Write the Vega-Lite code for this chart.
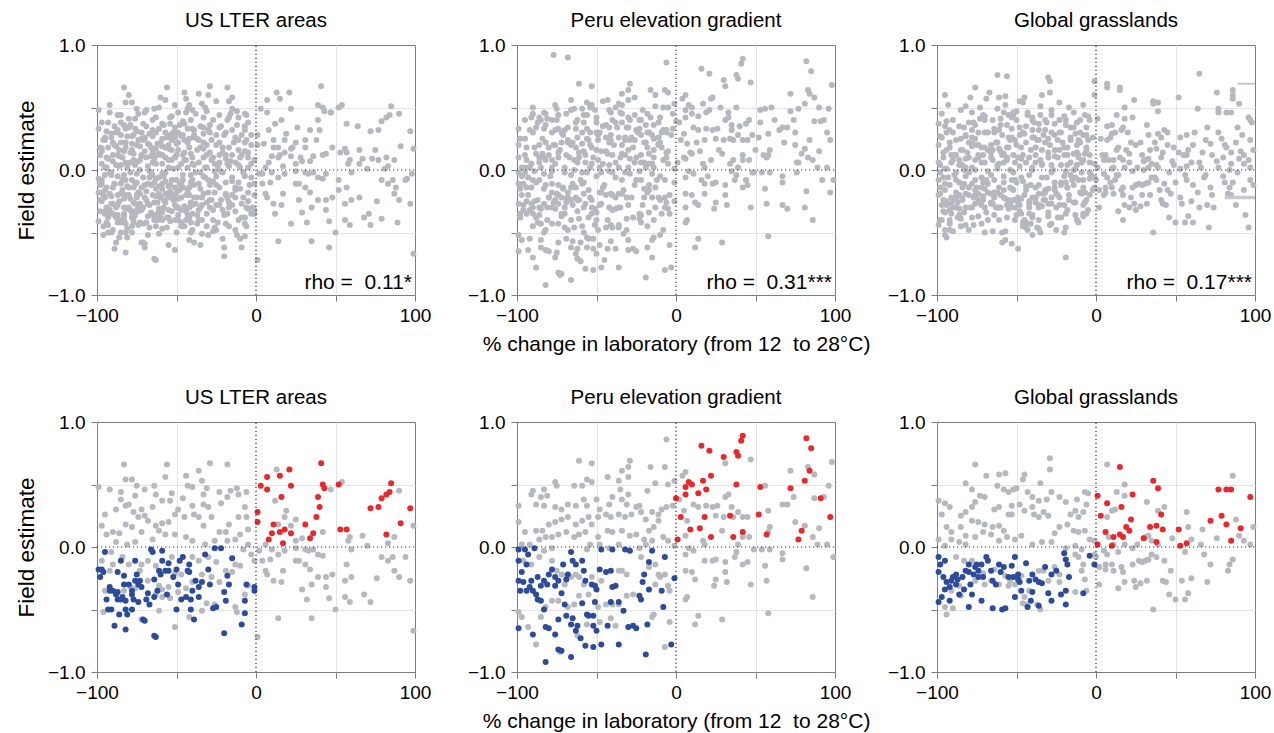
{
"$schema":"https://vega.github.io/schema/vega-lite/v6.json",
"background":"white",
"padding":{"left":14,"top":10,"right":0,"bottom":0},
"columns":3,
"bounds":"flush",
"spacing":{"row":127,"column":102},
"config":{
"font":"Liberation Sans",
"view":{"stroke":"#7d7d7d","strokeWidth":1},
"circle":{"size":36,"opacity":1,"color":"#b5b9bf"},
"line":{"color":"#333333","strokeDash":[1.2,2.8],"strokeWidth":1.2},
"text":{"fontSize":21,"align":"right","baseline":"middle","dx":-3,"color":"#000000"},
"title":{"fontSize":20.5,"fontWeight":"normal","color":"#000000","frame":"group","offset":5},
"axis":{"domain":false,"tickColor":"#7d7d7d","tickSize":6,"labelFontSize":19,"labelColor":"#000000","labelFlush":false,"labelOverlap":false,"titleFontWeight":"normal","titleColor":"#000000"},
"axisX":{"labelPadding":5,"titleFontSize":21,"titlePadding":8},
"axisY":{"labelPadding":6,"titleFontSize":22.5,"titlePadding":9}
},
"datasets":{
"lr":[{"x":3,"y":0.49},{"x":7,"y":0.56},{"x":7,"y":0.46},{"x":15,"y":0.57},{"x":21,"y":0.62},{"x":22,"y":0.49},{"x":16,"y":0.4},{"x":1,"y":0.28},{"x":1,"y":0.2},{"x":11,"y":0.18},{"x":10,"y":0.11},{"x":15,"y":0.12},{"x":18,"y":0.14},{"x":22,"y":0.11},{"x":8,"y":0.06},{"x":17,"y":0.03},{"x":31,"y":0.18},{"x":34,"y":0.07},{"x":36,"y":0.11},{"x":41,"y":0.67},{"x":42,"y":0.5},{"x":43,"y":0.47},{"x":39,"y":0.4},{"x":40,"y":0.32},{"x":38,"y":0.24},{"x":52,"y":0.5},{"x":53,"y":0.14},{"x":57,"y":0.14},{"x":72,"y":0.31},{"x":77,"y":0.32},{"x":79,"y":0.39},{"x":82,"y":0.42},{"x":84,"y":0.44},{"x":85,"y":0.51},{"x":91,"y":0.19},{"x":82,"y":0.1},{"x":97,"y":0.31}],
"lb":[{"x":-95,"y":-0.04},{"x":-97,"y":-0.18},{"x":-98,"y":-0.24},{"x":-94,"y":-0.42},{"x":-92,"y":-0.32},{"x":-93,"y":-0.5},{"x":-91,"y":-0.5},{"x":-89,"y":-0.63},{"x":-87,"y":-0.42},{"x":-86,"y":-0.54},{"x":-84,"y":-0.4},{"x":-83,"y":-0.3},{"x":-82,"y":-0.66},{"x":-82,"y":-0.5},{"x":-80,"y":-0.3},{"x":-78,"y":-0.38},{"x":-77,"y":-0.42},{"x":-76,"y":-0.11},{"x":-75,"y":-0.22},{"x":-74,"y":-0.3},{"x":-72,"y":-0.32},{"x":-71,"y":-0.58},{"x":-70,"y":-0.59},{"x":-69,"y":-0.42},{"x":-68,"y":-0.37},{"x":-66,"y":-0.02},{"x":-65,"y":-0.04},{"x":-64,"y":-0.26},{"x":-64,"y":-0.71},{"x":-63,"y":-0.72},{"x":-62,"y":-0.35},{"x":-60,"y":-0.22},{"x":-59,"y":-0.03},{"x":-59,"y":-0.11},{"x":-57,"y":-0.19},{"x":-56,"y":-0.38},{"x":-55,"y":-0.13},{"x":-52,"y":-0.24},{"x":-50,"y":-0.5},{"x":-49,"y":-0.3},{"x":-47,"y":-0.42},{"x":-46,"y":-0.08},{"x":-44,"y":-0.4},{"x":-43,"y":-0.19},{"x":-42,"y":-0.2},{"x":-41,"y":-0.5},{"x":-40,"y":-0.35},{"x":-39,"y":-0.58},{"x":-38,"y":-0.27},{"x":-36,"y":-0.32},{"x":-34,"y":-0.28},{"x":-32,"y":-0.06},{"x":-30,"y":-0.18},{"x":-29,"y":-0.3},{"x":-27,"y":-0.49},{"x":-26,"y":-0.01},{"x":-25,"y":-0.48},{"x":-22,"y":-0.01},{"x":-20,"y":-0.69},{"x":-20,"y":-0.36},{"x":-19,"y":-0.43},{"x":-17,"y":-0.3},{"x":-18,"y":-0.23},{"x":-15,"y":-0.09},{"x":-9,"y":-0.62},{"x":-7,"y":-0.53},{"x":-7,"y":-0.43},{"x":-6,"y":-0.3},{"x":-1,"y":-0.32},{"x":-1,"y":-0.35},{"x":-87,"y":-0.2},{"x":-85,"y":-0.11},{"x":-83,"y":-0.23},{"x":-88,"y":-0.38},{"x":-82,"y":-0.43},{"x":-74,"y":-0.44},{"x":-78,"y":-0.5},{"x":-81,"y":-0.54},{"x":-99,"y":-0.18},{"x":-96,"y":-0.2},{"x":-92,"y":-0.35},{"x":-90,"y":-0.35},{"x":-87,"y":-0.36},{"x":-85,"y":-0.42},{"x":-78,"y":-0.35},{"x":-76,"y":-0.27},{"x":-73,"y":-0.27},{"x":-67,"y":-0.46},{"x":-64,"y":-0.4},{"x":-61,"y":-0.19},{"x":-55,"y":-0.19},{"x":-50,"y":-0.18},{"x":-48,"y":-0.11},{"x":-42,"y":-0.14},{"x":-41,"y":-0.42},{"x":-36,"y":-0.4}],
"lg":[{"x":-83,"y":0.66},{"x":-56,"y":0.66},{"x":-29,"y":0.67},{"x":-18,"y":0.66},{"x":-82,"y":0.54},{"x":-78,"y":0.54},{"x":-75,"y":0.49},{"x":-57,"y":0.56},{"x":-44,"y":0.57},{"x":-36,"y":0.61},{"x":-34,"y":0.53},{"x":-99,"y":0.48},{"x":-92,"y":0.46},{"x":-85,"y":0.44},{"x":-85,"y":0.38},{"x":-80,"y":0.34},{"x":-76,"y":0.41},{"x":-70,"y":0.46},{"x":-64,"y":0.49},{"x":-63,"y":0.42},{"x":-53,"y":0.43},{"x":-46,"y":0.39},{"x":-43,"y":0.49},{"x":-40,"y":0.48},{"x":-33,"y":0.42},{"x":-31,"y":0.47},{"x":-23,"y":0.44},{"x":-16,"y":0.45},{"x":-12,"y":0.47},{"x":-6,"y":0.44},{"x":-11,"y":0.42},{"x":-18,"y":0.4},{"x":-22,"y":0.35},{"x":-30,"y":0.32},{"x":-33,"y":0.34},{"x":-40,"y":0.33},{"x":-49,"y":0.3},{"x":-54,"y":0.37},{"x":-59,"y":0.37},{"x":-65,"y":0.32},{"x":-72,"y":0.3},{"x":-77,"y":0.28},{"x":-82,"y":0.33},{"x":-88,"y":0.3},{"x":-95,"y":0.26},{"x":-97,"y":0.17},{"x":-94,"y":0.1},{"x":-90,"y":0.12},{"x":-86,"y":0.11},{"x":-82,"y":0.18},{"x":-78,"y":0.16},{"x":-74,"y":0.24},{"x":-70,"y":0.25},{"x":-68,"y":0.21},{"x":-63,"y":0.17},{"x":-59,"y":0.19},{"x":-55,"y":0.2},{"x":-51,"y":0.26},{"x":-45,"y":0.24},{"x":-39,"y":0.26},{"x":-36,"y":0.24},{"x":-33,"y":0.17},{"x":-28,"y":0.24},{"x":-23,"y":0.12},{"x":-19,"y":0.12},{"x":-17,"y":0.18},{"x":-11,"y":0.24},{"x":-7,"y":0.32},{"x":-6,"y":0.24},{"x":-10,"y":0.1},{"x":-5,"y":0.14},{"x":-13,"y":0.06},{"x":-18,"y":0.05},{"x":-26,"y":0.05},{"x":-32,"y":0.02},{"x":-40,"y":0.05},{"x":-44,"y":0.08},{"x":-51,"y":0.1},{"x":-57,"y":0.1},{"x":-61,"y":0.13},{"x":-65,"y":0.06},{"x":-72,"y":0.12},{"x":-76,"y":0.04},{"x":-81,"y":0.02},{"x":-88,"y":0.04},{"x":-91,"y":-0.04},{"x":-90,"y":-0.14},{"x":-84,"y":-0.08},{"x":-80,"y":-0.14},{"x":-72,"y":-0.14},{"x":-68,"y":-0.11},{"x":-63,"y":-0.15},{"x":-53,"y":-0.08},{"x":-51,"y":-0.21},{"x":-47,"y":-0.22},{"x":-40,"y":-0.08},{"x":-36,"y":-0.11},{"x":-30,"y":-0.08},{"x":-25,"y":-0.12},{"x":-19,"y":-0.19},{"x":-15,"y":-0.2},{"x":-13,"y":-0.14},{"x":-10,"y":-0.15},{"x":-3,"y":-0.06},{"x":-1,"y":-0.11},{"x":-5,"y":-0.31},{"x":-7,"y":-0.38},{"x":-13,"y":-0.48},{"x":-12,"y":-0.52},{"x":-23,"y":-0.28},{"x":-28,"y":-0.24},{"x":-34,"y":-0.22},{"x":-40,"y":-0.28},{"x":-44,"y":-0.33},{"x":-49,"y":-0.36},{"x":-54,"y":-0.41},{"x":-59,"y":-0.4},{"x":-63,"y":-0.38},{"x":-68,"y":-0.27},{"x":-73,"y":-0.19},{"x":-76,"y":-0.33},{"x":-79,"y":-0.32},{"x":-83,"y":-0.35},{"x":-95,"y":-0.35},{"x":-96,"y":-0.52},{"x":-72,"y":-0.58},{"x":-61,"y":-0.51},{"x":-51,"y":-0.64},{"x":-42,"y":-0.56},{"x":-34,"y":-0.51},{"x":-31,"y":-0.45},{"x":-26,"y":-0.46},{"x":-97,"y":-0.11},{"x":-92,"y":-0.19},{"x":-61,"y":-0.31},{"x":-55,"y":-0.32},{"x":-59,"y":-0.34},{"x":-5,"y":0.02},{"x":-8,"y":-0.02},{"x":13,"y":0.62},{"x":12,"y":0.37},{"x":19,"y":0.29},{"x":18,"y":0.24},{"x":14,"y":0.18},{"x":22,"y":0.17},{"x":25,"y":0.22},{"x":25,"y":0.05},{"x":29,"y":0.07},{"x":42,"y":0.12},{"x":36,"y":-0.02},{"x":33,"y":-0.03},{"x":25,"y":-0.01},{"x":18,"y":-0.03},{"x":14,"y":-0.06},{"x":6,"y":0.02},{"x":2,"y":-0.03},{"x":9,"y":-0.1},{"x":6,"y":-0.19},{"x":7,"y":-0.22},{"x":11,"y":-0.27},{"x":16,"y":-0.28},{"x":17,"y":-0.19},{"x":25,"y":-0.11},{"x":27,"y":-0.11},{"x":31,"y":-0.14},{"x":34,"y":-0.18},{"x":39,"y":-0.06},{"x":42,"y":-0.07},{"x":48,"y":-0.22},{"x":44,"y":-0.24},{"x":39,"y":-0.24},{"x":35,"y":-0.3},{"x":29,"y":-0.34},{"x":32,"y":-0.42},{"x":44,"y":-0.32},{"x":46,"y":-0.41},{"x":50,"y":-0.5},{"x":35,"y":-0.57},{"x":14,"y":-0.57},{"x":56,"y":-0.27},{"x":56,"y":-0.4},{"x":59,"y":-0.44},{"x":60,"y":-0.24},{"x":57,"y":-0.14},{"x":60,"y":-0.02},{"x":58,"y":0.05},{"x":59,"y":0.08},{"x":67,"y":0.09},{"x":70,"y":0.01},{"x":68,"y":-0.38},{"x":72,"y":-0.44},{"x":76,"y":-0.25},{"x":79,"y":-0.08},{"x":83,"y":-0.11},{"x":86,"y":-0.08},{"x":87,"y":-0.19},{"x":90,"y":-0.24},{"x":94,"y":-0.08},{"x":97,"y":-0.27},{"x":99,"y":-0.67},{"x":99,"y":0.17},{"x":90,"y":0.45},{"x":83,"y":0.03},{"x":87,"y":0.08},{"x":54,"y":0.52},{"x":47,"y":0.46},{"x":1,"y":-0.72},{"x":10,"y":-0.02},{"x":4,"y":-0.11},{"x":31,"y":-0.02}],
"lt":[{"x":8,"y":0.32},{"x":11,"y":0.24},{"x":23,"y":0.18},{"x":28,"y":0.1},{"x":31,"y":0.24},{"x":44,"y":0.13},{"x":48,"y":0.18},{"x":56,"y":0.17},{"x":65,"y":0.16},{"x":73,"y":0.09},{"x":77,"y":0.08},{"x":81,"y":0.01},{"x":88,"y":-0.14},{"x":12,"y":-0.35},{"x":22,"y":-0.43},{"x":27,"y":-0.24},{"x":52,"y":-0.16},{"x":65,"y":-0.22},{"x":71,"y":-0.35},{"x":79,"y":-0.39},{"x":89,"y":-0.42},{"x":46,"y":-0.62},{"x":52,"y":-0.08},{"x":4,"y":-0.03},{"x":5,"y":0.21},{"x":14,"y":0.1},{"x":44,"y":-0.03},{"x":26,"y":0.34},{"x":34,"y":0.32},{"x":65,"y":0.05},{"x":75,"y":0.16},{"x":95,"y":-0.07},{"x":98,"y":-0.03},{"x":-30,"y":0.6},{"x":-17,"y":0.55},{"x":-49,"y":0.46},{"x":-42,"y":0.52},{"x":-15,"y":0.49},{"x":-7,"y":0.45},{"x":39,"y":0.52},{"x":47,"y":0.46},{"x":57,"y":0.37},{"x":64,"y":0.35},{"x":-98,"y":0.12},{"x":-98,"y":-0.33},{"x":-97,"y":0.38},{"x":-97,"y":-0.08},{"x":-96,"y":0.24},{"x":-96,"y":-0.45},{"x":-95,"y":0.02},{"x":-95,"y":-0.22},{"x":-94,"y":0.31},{"x":-94,"y":-0.14},{"x":-93,"y":0.18},{"x":-93,"y":-0.38},{"x":-92,"y":-0.02},{"x":-92,"y":0.52},{"x":-91,"y":0.26},{"x":-91,"y":-0.27},{"x":-90,"y":0.07},{"x":-90,"y":-0.48},{"x":-89,"y":0.35},{"x":-89,"y":-0.11},{"x":-88,"y":-0.3},{"x":-88,"y":0.19},{"x":-87,"y":0.44},{"x":-87,"y":-0.05},{"x":-86,"y":0.03},{"x":-86,"y":-0.25},{"x":-85,"y":0.28},{"x":-85,"y":-0.5},{"x":-84,"y":-0.16},{"x":-84,"y":0.1},{"x":-83,"y":0.36},{"x":-83,"y":-0.4},{"x":-82,"y":-0.08},{"x":-82,"y":0.22},{"x":-81,"y":0.05},{"x":-81,"y":-0.31},{"x":-80,"y":0.41},{"x":-80,"y":-0.2},{"x":-79,"y":0.14},{"x":-79,"y":-0.02},{"x":-78,"y":-0.45},{"x":-78,"y":0.27},{"x":-77,"y":0.08},{"x":-77,"y":-0.26},{"x":-76,"y":0.33},{"x":-76,"y":-0.36},{"x":-75,"y":-0.1},{"x":-75,"y":0.2},{"x":-74,"y":0.45},{"x":-74,"y":-0.18},{"x":-73,"y":0},{"x":-73,"y":-0.42},{"x":-72,"y":0.25},{"x":-72,"y":0.11},{"x":-71,"y":-0.3},{"x":-71,"y":0.37},{"x":-70,"y":-0.12},{"x":-70,"y":0.15},{"x":-69,"y":-0.24},{"x":-69,"y":0.48},{"x":-68,"y":0.03},{"x":-68,"y":-0.52},{"x":-67,"y":0.29},{"x":-67,"y":-0.06},{"x":-66,"y":-0.34},{"x":-66,"y":0.18},{"x":-65,"y":0.4},{"x":-65,"y":-0.2},{"x":-64,"y":0.09},{"x":-64,"y":-0.1},{"x":-63,"y":-0.45},{"x":-63,"y":0.3},{"x":-62,"y":0.12},{"x":-62,"y":-0.26},{"x":-61,"y":0.5},{"x":-61,"y":-0.06},{"x":-60,"y":0.22},{"x":-60,"y":-0.38},{"x":-59,"y":0.05},{"x":-59,"y":-0.15},{"x":-58,"y":0.36},{"x":-58,"y":-0.3},{"x":-57,"y":0.18},{"x":-57,"y":-0.02},{"x":-56,"y":-0.46},{"x":-56,"y":0.26},{"x":-55,"y":0.08},{"x":-55,"y":-0.22},{"x":-54,"y":0.42},{"x":-54,"y":-0.12},{"x":-53,"y":0.16},{"x":-53,"y":-0.33},{"x":-52,"y":0.01},{"x":-52,"y":0.3},{"x":-51,"y":-0.28},{"x":-51,"y":0.52},{"x":-50,"y":0.12},{"x":-50,"y":-0.08},{"x":-49,"y":-0.4},{"x":-49,"y":0.22},{"x":-48,"y":0.36},{"x":-48,"y":-0.16},{"x":-47,"y":0.05},{"x":-47,"y":-0.32},{"x":-46,"y":0.28},{"x":-46,"y":-0.04},{"x":-45,"y":0.14},{"x":-45,"y":-0.45},{"x":-44,"y":0.46},{"x":-44,"y":-0.2},{"x":-43,"y":0.02},{"x":-43,"y":0.33},{"x":-42,"y":-0.3},{"x":-42,"y":0.18},{"x":-41,"y":-0.1},{"x":-41,"y":0.4},{"x":-40,"y":-0.48},{"x":-40,"y":0.1},{"x":-39,"y":0.28},{"x":-39,"y":-0.22},{"x":-38,"y":-0.02},{"x":-38,"y":0.45},{"x":-37,"y":0.16},{"x":-37,"y":-0.36},{"x":-36,"y":0.06},{"x":-35,"y":-0.15},{"x":-35,"y":0.35},{"x":-34,"y":-0.4},{"x":-33,"y":0.22},{"x":-33,"y":-0.05},{"x":-32,"y":0.5},{"x":-31,"y":-0.26},{"x":-31,"y":0.12},{"x":-30,"y":-0.52},{"x":-29,"y":0.3},{"x":-29,"y":-0.12},{"x":-28,"y":0.08},{"x":-27,"y":-0.32},{"x":-27,"y":0.4},{"x":-26,"y":-0.18},{"x":-25,"y":0.2},{"x":-24,"y":-0.42},{"x":-24,"y":0.03},{"x":-23,"y":0.34},{"x":-22,"y":-0.24},{"x":-21,"y":0.14},{"x":-21,"y":-0.55},{"x":-20,"y":0.28},{"x":-19,"y":-0.1},{"x":-18,"y":-0.35},{"x":-17,"y":0.42},{"x":-16,"y":0.07},{"x":-15,"y":-0.28},{"x":-14,"y":0.22},{"x":-13,"y":-0.16},{"x":-12,"y":0.36},{"x":-11,"y":-0.4},{"x":-10,"y":0.02},{"x":-9,"y":0.28},{"x":-8,"y":-0.22},{"x":-7,"y":0.15},{"x":-6,"y":-0.45},{"x":-5,"y":0.38},{"x":-4,"y":-0.12},{"x":-3,"y":0.2},{"x":-2,"y":-0.3},{"x":-1,"y":0.08},{"x":-1,"y":-0.2},{"x":-15,"y":0.58},{"x":-60,"y":0.58},{"x":-80,"y":0.6},{"x":-45,"y":0.62},{"x":-25,"y":0.55},{"x":-70,"y":-0.62},{"x":-55,"y":-0.6},{"x":-35,"y":-0.6},{"x":-88,"y":-0.58},{"x":-20,"y":-0.62},{"x":-10,"y":-0.55}],
"lt2":[{"x":-99,"y":0.33},{"x":-99,"y":-0.07},{"x":-99,"y":-0.41},{"x":-97,"y":0.15},{"x":-97,"y":-0.25},{"x":-97,"y":0.05},{"x":-95,"y":0.24},{"x":-95,"y":-0.16},{"x":-95,"y":-0.33},{"x":-93,"y":0.09},{"x":-93,"y":-0.44},{"x":-93,"y":0.38},{"x":-91,"y":-0.02},{"x":-91,"y":0.29},{"x":-91,"y":-0.21},{"x":-89,"y":0.2},{"x":-89,"y":-0.36},{"x":-89,"y":-0.11},{"x":-87,"y":0.12},{"x":-87,"y":-0.28},{"x":-87,"y":0.32},{"x":-85,"y":-0.19},{"x":-85,"y":0.04},{"x":-85,"y":0.22},{"x":-83,"y":0.15},{"x":-83,"y":-0.37},{"x":-83,"y":-0.04},{"x":-81,"y":0.27},{"x":-81,"y":-0.13},{"x":-81,"y":-0.47},{"x":-79,"y":0.06},{"x":-79,"y":-0.23},{"x":-79,"y":0.36},{"x":-77,"y":-0.14},{"x":-77,"y":0.13},{"x":-77,"y":-0.39},{"x":-75,"y":0.31},{"x":-75,"y":-0.03},{"x":-75,"y":-0.2},{"x":-73,"y":0.19},{"x":-73,"y":-0.3},{"x":-73,"y":0.08},{"x":-71,"y":-0.06},{"x":-71,"y":-0.43},{"x":-71,"y":0.24},{"x":-69,"y":0.1},{"x":-69,"y":-0.17},{"x":-69,"y":0.35},{"x":-67,"y":-0.28},{"x":-67,"y":0.2},{"x":-67,"y":-0.01},{"x":-65,"y":0.14},{"x":-65,"y":-0.36},{"x":-65,"y":0.27},{"x":-63,"y":-0.07},{"x":-63,"y":0.05},{"x":-63,"y":-0.21},{"x":-61,"y":0.33},{"x":-61,"y":-0.31},{"x":-61,"y":-0.13},{"x":-59,"y":0.25},{"x":-59,"y":-0.47},{"x":-59,"y":0.12},{"x":-57,"y":-0.09},{"x":-57,"y":0.3},{"x":-57,"y":-0.26},{"x":-55,"y":0.17},{"x":-55,"y":-0.38},{"x":-55,"y":0.02},{"x":-53,"y":-0.2},{"x":-53,"y":0.08},{"x":-53,"y":0.24},{"x":-51,"y":0.34},{"x":-51,"y":-0.14},{"x":-51,"y":-0.4},{"x":-49,"y":0.02},{"x":-49,"y":-0.23},{"x":-49,"y":0.16},{"x":-47,"y":-0.12},{"x":-47,"y":0.27},{"x":-47,"y":-0.45},{"x":-45,"y":0.08},{"x":-45,"y":-0.29},{"x":-45,"y":0.37},{"x":-43,"y":-0.16},{"x":-43,"y":0.22},{"x":-43,"y":-0.36},{"x":-41,"y":0.13},{"x":-41,"y":-0.04},{"x":-41,"y":-0.26},{"x":-39,"y":0.32},{"x":-39,"y":-0.12},{"x":-39,"y":0.04},{"x":-37,"y":-0.22},{"x":-37,"y":0.25},{"x":-37,"y":-0.43},{"x":-35,"y":0.18},{"x":-35,"y":-0.3},{"x":-35,"y":-0.02},{"x":-33,"y":0.1},{"x":-33,"y":-0.19},{"x":-33,"y":0.29},{"x":-31,"y":-0.35},{"x":-31,"y":0.02},{"x":-31,"y":0.2},{"x":-29,"y":0.14},{"x":-29,"y":-0.24},{"x":-29,"y":0.36},{"x":-27,"y":-0.09},{"x":-27,"y":0.1},{"x":-27,"y":-0.4},{"x":-25,"y":0.28},{"x":-25,"y":-0.28},{"x":-25,"y":-0.05},{"x":-23,"y":0.06},{"x":-23,"y":-0.14},{"x":-23,"y":0.22},{"x":-21,"y":-0.32},{"x":-21,"y":0.18},{"x":-21,"y":-0.02},{"x":-19,"y":0.3},{"x":-19,"y":-0.2},{"x":-19,"y":0.09},{"x":-17,"y":-0.26},{"x":-17,"y":0.03},{"x":-17,"y":-0.45},{"x":-15,"y":0.12},{"x":-15,"y":-0.06},{"x":-15,"y":0.32},{"x":-13,"y":-0.22},{"x":-13,"y":0.26},{"x":-13,"y":-0.33},{"x":-11,"y":0.16},{"x":-11,"y":-0.1},{"x":-11,"y":0.04},{"x":-9,"y":-0.27},{"x":-9,"y":0.12},{"x":-9,"y":-0.38},{"x":-7,"y":0.22},{"x":-7,"y":-0.05},{"x":-7,"y":0.35},{"x":-5,"y":-0.18},{"x":-5,"y":0.1},{"x":-5,"y":-0.25},{"x":-3,"y":0.05},{"x":-3,"y":-0.35},{"x":-3,"y":0.28},{"x":-98,"y":-0.12},{"x":-98,"y":0.18},{"x":-94,"y":0.02},{"x":-94,"y":-0.3},{"x":-90,"y":-0.27},{"x":-90,"y":0.22},{"x":-86,"y":0.16},{"x":-86,"y":-0.4},{"x":-82,"y":-0.2},{"x":-82,"y":0.06},{"x":-78,"y":0.21},{"x":-78,"y":-0.08},{"x":-74,"y":-0.33},{"x":-74,"y":0.07},{"x":-70,"y":0.26},{"x":-70,"y":-0.22},{"x":-66,"y":-0.12},{"x":-66,"y":0.11},{"x":-62,"y":0.21},{"x":-62,"y":-0.4},{"x":-58,"y":-0.05},{"x":-58,"y":-0.24},{"x":-54,"y":0.28},{"x":-54,"y":-0.17},{"x":-50,"y":-0.3},{"x":-50,"y":0.21},{"x":-46,"y":0.12},{"x":-46,"y":-0.14},{"x":-42,"y":-0.38},{"x":-42,"y":0.25}],
"pr":[{"x":0,"y":0.39},{"x":1,"y":0.06},{"x":3,"y":0.24},{"x":6,"y":0.48},{"x":6,"y":0.42},{"x":8,"y":0.52},{"x":9,"y":0.14},{"x":10,"y":0.5},{"x":14,"y":0.43},{"x":15,"y":0.15},{"x":16,"y":0.81},{"x":17,"y":0.53},{"x":18,"y":0.24},{"x":19,"y":0.46},{"x":21,"y":0.77},{"x":22,"y":0.08},{"x":22,"y":0.57},{"x":30,"y":0.72},{"x":34,"y":0.25},{"x":36,"y":0.08},{"x":38,"y":0.76},{"x":38,"y":0.5},{"x":39,"y":0.73},{"x":41,"y":0.85},{"x":42,"y":0.89},{"x":42,"y":0.12},{"x":52,"y":0.26},{"x":53,"y":0.48},{"x":57,"y":0.1},{"x":72,"y":0.47},{"x":77,"y":0.06},{"x":79,"y":0.13},{"x":81,"y":0.53},{"x":82,"y":0.87},{"x":84,"y":0.61},{"x":85,"y":0.79},{"x":91,"y":0.39},{"x":97,"y":0.24}],
"pb":[{"x":-99,"y":-0.02},{"x":-95,"y":-0.02},{"x":-89,"y":-0.01},{"x":-93,"y":-0.06},{"x":-99,"y":-0.11},{"x":-94,"y":-0.14},{"x":-97,"y":-0.2},{"x":-99,"y":-0.27},{"x":-96,"y":-0.28},{"x":-94,"y":-0.35},{"x":-92,"y":-0.32},{"x":-90,"y":-0.35},{"x":-88,"y":-0.38},{"x":-87,"y":-0.42},{"x":-85,"y":-0.31},{"x":-83,"y":-0.27},{"x":-81,"y":-0.3},{"x":-80,"y":-0.22},{"x":-78,"y":-0.18},{"x":-76,"y":-0.31},{"x":-76,"y":-0.24},{"x":-74,"y":-0.27},{"x":-72,"y":-0.37},{"x":-71,"y":-0.14},{"x":-69,"y":-0.26},{"x":-68,"y":-0.22},{"x":-66,"y":-0.04},{"x":-65,"y":-0.11},{"x":-63,"y":-0.14},{"x":-59,"y":-0.11},{"x":-58,"y":-0.19},{"x":-57,"y":-0.27},{"x":-53,"y":-0.3},{"x":-51,"y":-0.31},{"x":-50,"y":-0.34},{"x":-51,"y":-0.44},{"x":-48,"y":-0.18},{"x":-47,"y":-0.02},{"x":-44,"y":-0.2},{"x":-41,"y":-0.19},{"x":-40,"y":-0.02},{"x":-40,"y":-0.32},{"x":-41,"y":-0.44},{"x":-38,"y":-0.31},{"x":-36,"y":-0.44},{"x":-33,"y":-0.51},{"x":-32,"y":-0.02},{"x":-29,"y":-0.03},{"x":-17,"y":-0.12},{"x":-15,"y":-0.03},{"x":-7,"y":-0.08},{"x":-20,"y":-0.22},{"x":-21,"y":-0.28},{"x":-17,"y":-0.34},{"x":-9,"y":-0.35},{"x":-8,"y":-0.48},{"x":-1,"y":-0.25},{"x":-18,"y":-0.62},{"x":-25,"y":-0.65},{"x":-27,"y":-0.63},{"x":-30,"y":-0.64},{"x":-36,"y":-0.78},{"x":-47,"y":-0.78},{"x":-52,"y":-0.8},{"x":-57,"y":-0.79},{"x":-60,"y":-0.73},{"x":-63,"y":-0.67},{"x":-66,"y":-0.62},{"x":-69,"y":-0.55},{"x":-74,"y":-0.58},{"x":-76,"y":-0.7},{"x":-74,"y":-0.82},{"x":-72,"y":-0.83},{"x":-66,"y":-0.88},{"x":-82,"y":-0.92},{"x":-82,"y":-0.64},{"x":-80,"y":-0.65},{"x":-83,"y":-0.5},{"x":-85,"y":-0.43},{"x":-90,"y":-0.7},{"x":-99,"y":-0.65},{"x":-50,"y":-0.67},{"x":-43,"y":-0.63},{"x":-52,"y":-0.63},{"x":-55,"y":-0.55},{"x":-59,"y":-0.45},{"x":-65,"y":-0.57},{"x":-62,"y":-0.63},{"x":-3,"y":-0.78},{"x":-19,"y":-0.86},{"x":-23,"y":-0.39},{"x":-22,"y":-0.42},{"x":-52,"y":-0.55},{"x":-56,"y":-0.54},{"x":-70,"y":-0.46},{"x":-98,"y":-0.35},{"x":-91,"y":-0.27},{"x":-87,"y":-0.24}],
"pg":[{"x":-61,"y":0.69},{"x":-53,"y":0.67},{"x":-29,"y":0.69},{"x":-6,"y":0.86},{"x":-16,"y":0.64},{"x":-7,"y":0.64},{"x":-34,"y":0.61},{"x":-30,"y":0.64},{"x":-43,"y":0.56},{"x":-36,"y":0.53},{"x":-30,"y":0.56},{"x":-56,"y":0.54},{"x":-53,"y":0.52},{"x":-59,"y":0.49},{"x":-64,"y":0.49},{"x":-76,"y":0.52},{"x":-75,"y":0.49},{"x":-81,"y":0.41},{"x":-83,"y":0.46},{"x":-90,"y":0.45},{"x":-91,"y":0.42},{"x":-85,"y":0.4},{"x":-99,"y":0.33},{"x":-88,"y":0.34},{"x":-83,"y":0.33},{"x":-76,"y":0.32},{"x":-72,"y":0.3},{"x":-68,"y":0.34},{"x":-63,"y":0.33},{"x":-58,"y":0.38},{"x":-56,"y":0.33},{"x":-50,"y":0.38},{"x":-48,"y":0.3},{"x":-42,"y":0.34},{"x":-40,"y":0.4},{"x":-35,"y":0.46},{"x":-34,"y":0.38},{"x":-31,"y":0.34},{"x":-30,"y":0.42},{"x":-23,"y":0.33},{"x":-22,"y":0.28},{"x":-19,"y":0.22},{"x":-15,"y":0.28},{"x":-11,"y":0.26},{"x":-9,"y":0.3},{"x":-6,"y":0.32},{"x":-2,"y":0.33},{"x":-1,"y":0.53},{"x":-5,"y":0.5},{"x":-13,"y":0.51},{"x":-18,"y":0.45},{"x":-25,"y":0.32},{"x":-28,"y":0.26},{"x":-32,"y":0.24},{"x":-36,"y":0.26},{"x":-41,"y":0.24},{"x":-44,"y":0.26},{"x":-49,"y":0.24},{"x":-53,"y":0.18},{"x":-55,"y":0.24},{"x":-59,"y":0.21},{"x":-63,"y":0.18},{"x":-68,"y":0.24},{"x":-72,"y":0.22},{"x":-76,"y":0.2},{"x":-80,"y":0.18},{"x":-84,"y":0.13},{"x":-88,"y":0.13},{"x":-95,"y":0.12},{"x":-99,"y":0.2},{"x":-97,"y":0.02},{"x":-92,"y":0.02},{"x":-86,"y":0.06},{"x":-82,"y":0.08},{"x":-78,"y":0.08},{"x":-74,"y":0.1},{"x":-69,"y":0.12},{"x":-64,"y":0.08},{"x":-61,"y":0.1},{"x":-57,"y":0.12},{"x":-54,"y":0.02},{"x":-49,"y":0.08},{"x":-43,"y":0.13},{"x":-40,"y":0.12},{"x":-34,"y":0.13},{"x":-29,"y":0.09},{"x":-25,"y":0.1},{"x":-20,"y":0.06},{"x":-17,"y":0.13},{"x":-14,"y":0.16},{"x":-11,"y":0.21},{"x":-8,"y":0.08},{"x":-5,"y":0.05},{"x":-1,"y":0.01},{"x":-15,"y":0.05},{"x":-19,"y":0.02},{"x":-23,"y":-0.01},{"x":-36,"y":0.02},{"x":-42,"y":-0.01},{"x":-48,"y":0.02},{"x":-56,"y":-0.02},{"x":-78,"y":-0.01},{"x":-83,"y":-0.03},{"x":-86,"y":-0.08},{"x":-91,"y":-0.14},{"x":-96,"y":-0.11},{"x":-78,"y":-0.11},{"x":-75,"y":-0.19},{"x":-72,"y":-0.22},{"x":-69,"y":-0.23},{"x":-66,"y":-0.24},{"x":-63,"y":-0.22},{"x":-61,"y":-0.24},{"x":-70,"y":-0.3},{"x":-58,"y":-0.3},{"x":-53,"y":-0.24},{"x":-47,"y":-0.27},{"x":-36,"y":-0.19},{"x":-34,"y":-0.19},{"x":-31,"y":-0.22},{"x":-22,"y":-0.08},{"x":-17,"y":-0.16},{"x":-13,"y":-0.14},{"x":-11,"y":-0.22},{"x":-10,"y":-0.24},{"x":-7,"y":-0.22},{"x":-5,"y":-0.31},{"x":-13,"y":-0.3},{"x":-4,"y":-0.35},{"x":-14,"y":-0.54},{"x":-4,"y":-0.6},{"x":-7,"y":-0.8},{"x":-15,"y":-0.56},{"x":-27,"y":-0.38},{"x":-31,"y":-0.39},{"x":-36,"y":-0.46},{"x":-40,"y":-0.46},{"x":-44,"y":-0.46},{"x":-49,"y":-0.48},{"x":-55,"y":-0.38},{"x":-61,"y":-0.39},{"x":-64,"y":-0.46},{"x":-68,"y":-0.48},{"x":-74,"y":-0.43},{"x":-78,"y":-0.43},{"x":-82,"y":-0.48},{"x":-85,"y":-0.56},{"x":-88,"y":-0.78},{"x":-93,"y":-0.64},{"x":-97,"y":-0.56},{"x":-99,"y":-0.52},{"x":-73,"y":-0.84},{"x":-62,"y":-0.71},{"x":-56,"y":-0.62},{"x":-48,"y":-0.6},{"x":-41,"y":-0.57},{"x":-38,"y":-0.63},{"x":6,"y":0.6},{"x":4,"y":0.57},{"x":2,"y":0.38},{"x":5,"y":0.29},{"x":7,"y":0.21},{"x":6,"y":0.09},{"x":8,"y":-0.01},{"x":6,"y":-0.06},{"x":11,"y":-0.03},{"x":6,"y":-0.19},{"x":10,"y":-0.2},{"x":12,"y":-0.26},{"x":7,"y":-0.4},{"x":6,"y":-0.42},{"x":14,"y":-0.55},{"x":12,"y":-0.62},{"x":17,"y":0.05},{"x":18,"y":0.02},{"x":23,"y":-0.11},{"x":25,"y":-0.1},{"x":25,"y":-0.26},{"x":24,"y":-0.31},{"x":31,"y":-0.12},{"x":31,"y":-0.2},{"x":32,"y":-0.28},{"x":29,"y":-0.58},{"x":18,"y":-0.11},{"x":14,"y":0.32},{"x":11,"y":0.34},{"x":19,"y":0.33},{"x":23,"y":0.32},{"x":26,"y":0.33},{"x":31,"y":0.4},{"x":33,"y":0.42},{"x":30,"y":0.24},{"x":25,"y":0.25},{"x":29,"y":0.13},{"x":35,"y":0.32},{"x":36,"y":0.24},{"x":39,"y":0.28},{"x":42,"y":0.24},{"x":45,"y":0.24},{"x":46,"y":0.08},{"x":42,"y":0.08},{"x":39,"y":0.02},{"x":38,"y":-0.04},{"x":37,"y":-0.08},{"x":42,"y":-0.14},{"x":45,"y":-0.12},{"x":47,"y":-0.3},{"x":47,"y":0.7},{"x":31,"y":0.67},{"x":56,"y":0.49},{"x":58,"y":0.29},{"x":59,"y":0.16},{"x":58,"y":0.12},{"x":59,"y":-0.02},{"x":56,"y":-0.15},{"x":57,"y":-0.27},{"x":58,"y":-0.53},{"x":49,"y":-0.02},{"x":54,"y":-0.02},{"x":67,"y":0.34},{"x":70,"y":0.34},{"x":72,"y":0.61},{"x":67,"y":-0.05},{"x":67,"y":-0.1},{"x":75,"y":0.2},{"x":81,"y":0.17},{"x":83,"y":0.64},{"x":87,"y":0.58},{"x":87,"y":0.39},{"x":93,"y":0.4},{"x":96,"y":0.49},{"x":98,"y":0.68},{"x":82,"y":-0.17},{"x":86,"y":-0.4},{"x":86,"y":0.08},{"x":90,"y":0.15},{"x":89,"y":0.02},{"x":99,"y":-0.08},{"x":95,"y":0.02},{"x":74,"y":0.4}],
"pt":[{"x":10,"y":0.45},{"x":21,"y":0.48},{"x":23,"y":0.58},{"x":33,"y":0.46},{"x":35,"y":0.36},{"x":46,"y":0.4},{"x":60,"y":0.5},{"x":65,"y":0.32},{"x":77,"y":0.49},{"x":84,"y":0.24},{"x":97,"y":-0.18},{"x":81,"y":-0.3},{"x":67,"y":-0.28},{"x":70,"y":-0.31},{"x":48,"y":-0.02},{"x":44,"y":-0.08},{"x":18,"y":-0.19},{"x":14,"y":-0.28},{"x":35,"y":-0.01},{"x":50,"y":0.16},{"x":76,"y":0.06},{"x":27,"y":0.16},{"x":10,"y":0.13},{"x":6,"y":-0.3},{"x":16,"y":-0.08},{"x":53,"y":0.38},{"x":44,"y":0.37},{"x":76,"y":-0.02},{"x":92,"y":-0.08},{"x":-77,"y":0.92},{"x":-68,"y":0.9},{"x":-66,"y":0.56},{"x":-90,"y":0.5},{"x":-95,"y":0.4},{"x":-99,"y":0.1},{"x":-97,"y":-0.05},{"x":-95,"y":0.25},{"x":-93,"y":-0.2},{"x":-92,"y":0.32},{"x":-91,"y":0.05},{"x":-90,"y":-0.45},{"x":-89,"y":0.18},{"x":-88,"y":-0.1},{"x":-87,"y":0.38},{"x":-86,"y":-0.3},{"x":-85,"y":0.02},{"x":-84,"y":0.25},{"x":-83,"y":-0.15},{"x":-82,"y":0.45},{"x":-81,"y":-0.4},{"x":-80,"y":0.12},{"x":-79,"y":-0.05},{"x":-78,"y":0.3},{"x":-77,"y":-0.26},{"x":-76,"y":0.05},{"x":-75,"y":0.4},{"x":-74,"y":-0.12},{"x":-73,"y":0.16},{"x":-72,"y":-0.35},{"x":-71,"y":0.28},{"x":-70,"y":-0.02},{"x":-69,"y":0.45},{"x":-68,"y":-0.18},{"x":-67,"y":0.1},{"x":-66,"y":-0.4},{"x":-65,"y":0.22},{"x":-64,"y":0},{"x":-63,"y":0.38},{"x":-62,"y":-0.24},{"x":-61,"y":0.14},{"x":-60,"y":-0.08},{"x":-59,"y":0.3},{"x":-58,"y":-0.5},{"x":-57,"y":0.06},{"x":-56,"y":0.44},{"x":-55,"y":-0.16},{"x":-54,"y":0.2},{"x":-53,"y":-0.35},{"x":-52,"y":0.1},{"x":-51,"y":0.48},{"x":-50,"y":-0.05},{"x":-49,"y":0.28},{"x":-48,"y":-0.28},{"x":-47,"y":0.15},{"x":-46,"y":0.55},{"x":-45,"y":-0.12},{"x":-44,"y":0.36},{"x":-43,"y":-0.4},{"x":-42,"y":0.04},{"x":-41,"y":0.46},{"x":-40,"y":-0.2},{"x":-39,"y":0.2},{"x":-38,"y":-0.06},{"x":-37,"y":0.34},{"x":-36,"y":-0.3},{"x":-35,"y":0.1},{"x":-34,"y":0.52},{"x":-33,"y":-0.16},{"x":-32,"y":0.26},{"x":-31,"y":-0.48},{"x":-30,"y":0.02},{"x":-29,"y":0.4},{"x":-28,"y":-0.22},{"x":-27,"y":0.18},{"x":-26,"y":0.58},{"x":-25,"y":-0.08},{"x":-24,"y":0.3},{"x":-23,"y":-0.35},{"x":-22,"y":0.12},{"x":-21,"y":0.48},{"x":-20,"y":-0.15},{"x":-19,"y":0.36},{"x":-18,"y":-0.45},{"x":-17,"y":0.05},{"x":-16,"y":0.42},{"x":-15,"y":-0.22},{"x":-14,"y":0.25},{"x":-13,"y":0.6},{"x":-12,"y":-0.08},{"x":-11,"y":0.38},{"x":-10,"y":-0.52},{"x":-9,"y":0.18},{"x":-8,"y":0.5},{"x":-7,"y":-0.3},{"x":-6,"y":0.1},{"x":-5,"y":0.62},{"x":-4,"y":-0.2},{"x":-3,"y":0.28},{"x":-2,"y":0.45},{"x":-1,"y":-0.1},{"x":-96,"y":-0.32},{"x":-94,"y":0.08},{"x":-89,"y":-0.25},{"x":-86,"y":0.2},{"x":-83,"y":0.1},{"x":-80,"y":-0.22},{"x":-77,"y":0.2},{"x":-74,"y":0.33},{"x":-71,"y":-0.15},{"x":-68,"y":0.22},{"x":-65,"y":-0.28},{"x":-62,"y":0.4},{"x":-59,"y":-0.02},{"x":-56,"y":0.25},{"x":-53,"y":0.05},{"x":-50,"y":0.3},{"x":-47,"y":-0.18},{"x":-44,"y":0.15},{"x":-41,"y":0.28},{"x":-38,"y":0.5},{"x":-35,"y":-0.3},{"x":-32,"y":0.12},{"x":-29,"y":0.24},{"x":-26,"y":0.06},{"x":-23,"y":0.4},{"x":-20,"y":0.22},{"x":-17,"y":0.3},{"x":-14,"y":0.02},{"x":-11,"y":0.2},{"x":-8,"y":0.32},{"x":-5,"y":0.15},{"x":-85,"y":-0.62},{"x":-75,"y":-0.66},{"x":-60,"y":-0.58},{"x":-45,"y":-0.72},{"x":-30,"y":-0.56},{"x":-15,"y":-0.7},{"x":-92,"y":-0.55}],
"pt2":[{"x":-98,"y":0.25},{"x":-98,"y":-0.15},{"x":-98,"y":-0.38},{"x":-94,"y":0.18},{"x":-94,"y":-0.25},{"x":-94,"y":0.02},{"x":-90,"y":0.3},{"x":-90,"y":-0.08},{"x":-90,"y":-0.3},{"x":-86,"y":0.1},{"x":-86,"y":-0.36},{"x":-86,"y":0.42},{"x":-82,"y":0.22},{"x":-82,"y":-0.12},{"x":-82,"y":0.36},{"x":-78,"y":0.4},{"x":-78,"y":-0.3},{"x":-78,"y":0.02},{"x":-74,"y":0.14},{"x":-74,"y":-0.2},{"x":-74,"y":0.44},{"x":-70,"y":0.32},{"x":-70,"y":0.02},{"x":-70,"y":-0.35},{"x":-66,"y":0.2},{"x":-66,"y":-0.14},{"x":-66,"y":0.48},{"x":-62,"y":0.26},{"x":-62,"y":-0.33},{"x":-62,"y":0.06},{"x":-58,"y":0.44},{"x":-58,"y":-0.1},{"x":-58,"y":0.15},{"x":-54,"y":0.3},{"x":-54,"y":-0.22},{"x":-54,"y":0.5},{"x":-50,"y":0.16},{"x":-50,"y":-0.4},{"x":-50,"y":0.42},{"x":-46,"y":0.35},{"x":-46,"y":0.05},{"x":-46,"y":-0.14},{"x":-42,"y":0.22},{"x":-42,"y":0.48},{"x":-42,"y":-0.3},{"x":-38,"y":0.38},{"x":-38,"y":0.06},{"x":-38,"y":-0.22},{"x":-34,"y":0.2},{"x":-34,"y":-0.08},{"x":-34,"y":0.45},{"x":-30,"y":0.34},{"x":-30,"y":0.16},{"x":-30,"y":-0.28},{"x":-26,"y":0.24},{"x":-26,"y":0.44},{"x":-26,"y":-0.12},{"x":-22,"y":0.4},{"x":-22,"y":0.06},{"x":-22,"y":-0.36},{"x":-18,"y":0.18},{"x":-18,"y":0.3},{"x":-18,"y":-0.18},{"x":-14,"y":0.36},{"x":-14,"y":0.1},{"x":-14,"y":-0.4},{"x":-10,"y":0.22},{"x":-10,"y":0.42},{"x":-10,"y":-0.05},{"x":-6,"y":0.3},{"x":-6,"y":0.14},{"x":-6,"y":-0.26},{"x":5,"y":0.1},{"x":13,"y":0.22},{"x":20,"y":-0.05},{"x":28,"y":0.5},{"x":34,"y":0.05},{"x":40,"y":0.35},{"x":48,"y":0.28},{"x":55,"y":0.12},{"x":62,"y":0.4},{"x":68,"y":0.22},{"x":75,"y":0.3},{"x":83,"y":0.1},{"x":90,"y":0.5},{"x":95,"y":0.3}],
"gr":[{"x":1,"y":0.41},{"x":3,"y":0.25},{"x":7,"y":0.35},{"x":11,"y":0.08},{"x":10,"y":0.01},{"x":15,"y":0.64},{"x":16,"y":0.32},{"x":19,"y":0.16},{"x":21,"y":0.13},{"x":22,"y":0.22},{"x":23,"y":0.42},{"x":17,"y":0.08},{"x":15,"y":0.1},{"x":30,"y":0.07},{"x":34,"y":0.16},{"x":36,"y":0.53},{"x":38,"y":0.17},{"x":39,"y":0.47},{"x":41,"y":0.26},{"x":42,"y":0.14},{"x":38,"y":0.04},{"x":52,"y":0.14},{"x":53,"y":0.01},{"x":57,"y":0.03},{"x":72,"y":0.21},{"x":77,"y":0.46},{"x":79,"y":0.25},{"x":82,"y":0.46},{"x":82,"y":0.18},{"x":85,"y":0.46},{"x":85,"y":0.05},{"x":91,"y":0.15},{"x":97,"y":0.4},{"x":1,"y":0.02},{"x":6,"y":0.12}],
"gb":[{"x":-99,"y":-0.08},{"x":-98,"y":-0.14},{"x":-95,"y":-0.11},{"x":-99,"y":-0.2},{"x":-96,"y":-0.24},{"x":-94,"y":-0.28},{"x":-92,"y":-0.32},{"x":-95,"y":-0.34},{"x":-90,"y":-0.24},{"x":-88,"y":-0.22},{"x":-87,"y":-0.26},{"x":-84,"y":-0.24},{"x":-82,"y":-0.19},{"x":-80,"y":-0.2},{"x":-79,"y":-0.3},{"x":-77,"y":-0.22},{"x":-75,"y":-0.14},{"x":-74,"y":-0.19},{"x":-72,"y":-0.14},{"x":-71,"y":-0.24},{"x":-69,"y":-0.08},{"x":-68,"y":-0.11},{"x":-66,"y":-0.19},{"x":-65,"y":-0.27},{"x":-63,"y":-0.3},{"x":-61,"y":-0.14},{"x":-60,"y":-0.2},{"x":-58,"y":-0.16},{"x":-55,"y":-0.24},{"x":-53,"y":-0.15},{"x":-51,"y":-0.08},{"x":-49,"y":-0.26},{"x":-48,"y":-0.28},{"x":-47,"y":-0.35},{"x":-44,"y":-0.13},{"x":-42,"y":-0.27},{"x":-40,"y":-0.36},{"x":-41,"y":-0.43},{"x":-38,"y":-0.26},{"x":-36,"y":-0.28},{"x":-34,"y":-0.29},{"x":-32,"y":-0.16},{"x":-30,"y":-0.37},{"x":-28,"y":-0.43},{"x":-20,"y":-0.05},{"x":-19,"y":-0.1},{"x":-18,"y":-0.14},{"x":-17,"y":-0.24},{"x":-19,"y":-0.35},{"x":-19,"y":-0.46},{"x":-22,"y":-0.38},{"x":-8,"y":-0.37},{"x":-4,"y":-0.07},{"x":-1,"y":-0.14},{"x":-80,"y":-0.48},{"x":-72,"y":-0.43},{"x":-65,"y":-0.49},{"x":-59,"y":-0.5},{"x":-57,"y":-0.49},{"x":-51,"y":-0.4},{"x":-43,"y":-0.48},{"x":-36,"y":-0.47},{"x":-97,"y":-0.4},{"x":-92,"y":-0.43},{"x":-86,"y":-0.38},{"x":-83,"y":-0.34},{"x":-78,"y":-0.38},{"x":-99,"y":-0.44},{"x":-91,"y":-0.27},{"x":-88,"y":-0.3},{"x":-74,"y":-0.24},{"x":-80,"y":-0.14},{"x":-76,"y":-0.16},{"x":-52,"y":-0.24},{"x":-49,"y":-0.22},{"x":-40,"y":-0.22},{"x":-28,"y":-0.22},{"x":-25,"y":-0.19}],
"gg":[{"x":-76,"y":0.66},{"x":-29,"y":0.71},{"x":-29,"y":0.62},{"x":-57,"y":0.59},{"x":-61,"y":0.58},{"x":-69,"y":0.57},{"x":-82,"y":0.51},{"x":-78,"y":0.46},{"x":-62,"y":0.49},{"x":-58,"y":0.46},{"x":-55,"y":0.44},{"x":-52,"y":0.46},{"x":-50,"y":0.47},{"x":-46,"y":0.54},{"x":-45,"y":0.58},{"x":-35,"y":0.51},{"x":-28,"y":0.44},{"x":-23,"y":0.4},{"x":-31,"y":0.38},{"x":-36,"y":0.37},{"x":-40,"y":0.4},{"x":-43,"y":0.44},{"x":-48,"y":0.34},{"x":-53,"y":0.33},{"x":-55,"y":0.26},{"x":-61,"y":0.32},{"x":-64,"y":0.3},{"x":-70,"y":0.4},{"x":-73,"y":0.41},{"x":-76,"y":0.36},{"x":-78,"y":0.32},{"x":-82,"y":0.28},{"x":-85,"y":0.25},{"x":-92,"y":0.32},{"x":-95,"y":0.35},{"x":-99,"y":0.37},{"x":-97,"y":0.26},{"x":-94,"y":0.16},{"x":-91,"y":0.12},{"x":-85,"y":0.16},{"x":-82,"y":0.09},{"x":-78,"y":0.21},{"x":-74,"y":0.2},{"x":-70,"y":0.18},{"x":-65,"y":0.16},{"x":-61,"y":0.17},{"x":-58,"y":0.13},{"x":-53,"y":0.26},{"x":-45,"y":0.29},{"x":-40,"y":0.32},{"x":-39,"y":0.26},{"x":-36,"y":0.24},{"x":-33,"y":0.28},{"x":-30,"y":0.25},{"x":-26,"y":0.11},{"x":-28,"y":0.04},{"x":-23,"y":0.16},{"x":-19,"y":0.36},{"x":-16,"y":0.26},{"x":-13,"y":0.29},{"x":-11,"y":0.24},{"x":-8,"y":0.28},{"x":-6,"y":0.34},{"x":-5,"y":0.43},{"x":-7,"y":0.44},{"x":-12,"y":0.38},{"x":-18,"y":0.18},{"x":-14,"y":0.13},{"x":-11,"y":0.12},{"x":-7,"y":0.13},{"x":-4,"y":0.06},{"x":-1,"y":0.05},{"x":-9,"y":-0.02},{"x":-13,"y":0.01},{"x":-19,"y":-0.01},{"x":-34,"y":0.04},{"x":-40,"y":0.02},{"x":-47,"y":0.09},{"x":-51,"y":0.06},{"x":-56,"y":0.08},{"x":-61,"y":0.05},{"x":-66,"y":0.1},{"x":-71,"y":0.12},{"x":-76,"y":0.08},{"x":-82,"y":0.02},{"x":-86,"y":0.04},{"x":-91,"y":0.06},{"x":-99,"y":0.06},{"x":-95,"y":0.01},{"x":-88,"y":-0.08},{"x":-83,"y":-0.11},{"x":-78,"y":-0.11},{"x":-71,"y":-0.21},{"x":-66,"y":-0.27},{"x":-64,"y":-0.18},{"x":-57,"y":-0.23},{"x":-54,"y":-0.27},{"x":-51,"y":-0.3},{"x":-47,"y":-0.23},{"x":-45,"y":-0.4},{"x":-42,"y":-0.35},{"x":-36,"y":-0.19},{"x":-33,"y":-0.19},{"x":-26,"y":-0.16},{"x":-23,"y":-0.22},{"x":-13,"y":-0.06},{"x":-11,"y":-0.08},{"x":-8,"y":-0.14},{"x":-9,"y":-0.19},{"x":-7,"y":-0.26},{"x":-13,"y":-0.36},{"x":-6,"y":-0.35},{"x":-23,"y":-0.28},{"x":-30,"y":-0.27},{"x":-55,"y":-0.31},{"x":-61,"y":-0.3},{"x":-70,"y":-0.3},{"x":-76,"y":-0.27},{"x":-86,"y":-0.31},{"x":-91,"y":-0.35},{"x":-95,"y":-0.48},{"x":-94,"y":-0.54},{"x":-90,"y":-0.49},{"x":-85,"y":-0.39},{"x":-44,"y":-0.46},{"x":-35,"y":-0.5},{"x":-37,"y":-0.46},{"x":-46,"y":-0.45},{"x":-1,"y":-0.06},{"x":0,"y":-0.08},{"x":7,"y":0.66},{"x":13,"y":0.44},{"x":18,"y":0.5},{"x":18,"y":0.41},{"x":12,"y":0.3},{"x":10,"y":0.29},{"x":7,"y":0.24},{"x":8,"y":0.08},{"x":11,"y":0.02},{"x":18,"y":0.02},{"x":23,"y":-0.01},{"x":26,"y":0.02},{"x":31,"y":0.08},{"x":32,"y":0.36},{"x":33,"y":0.09},{"x":35,"y":0.05},{"x":39,"y":0.29},{"x":43,"y":0.32},{"x":48,"y":0.07},{"x":39,"y":0.02},{"x":35,"y":-0.06},{"x":31,"y":-0.11},{"x":29,"y":-0.12},{"x":27,"y":-0.11},{"x":23,"y":-0.14},{"x":16,"y":-0.16},{"x":14,"y":-0.04},{"x":7,"y":-0.06},{"x":6,"y":-0.14},{"x":6,"y":-0.18},{"x":10,"y":-0.14},{"x":11,"y":-0.19},{"x":17,"y":-0.2},{"x":18,"y":-0.28},{"x":14,"y":-0.33},{"x":24,"y":-0.27},{"x":25,"y":-0.32},{"x":28,"y":-0.29},{"x":32,"y":-0.27},{"x":33,"y":-0.1},{"x":38,"y":-0.08},{"x":43,"y":-0.11},{"x":42,"y":-0.27},{"x":44,"y":-0.28},{"x":46,"y":-0.38},{"x":47,"y":-0.19},{"x":50,"y":-0.42},{"x":54,"y":-0.27},{"x":56,"y":-0.42},{"x":58,"y":-0.37},{"x":60,"y":-0.25},{"x":56,"y":-0.04},{"x":57,"y":0.28},{"x":58,"y":0.16},{"x":60,"y":0.06},{"x":66,"y":0.02},{"x":67,"y":0.14},{"x":68,"y":-0.06},{"x":72,"y":-0.14},{"x":70,"y":-0.28},{"x":76,"y":0.07},{"x":86,"y":0.57},{"x":88,"y":0.22},{"x":90,"y":0.09},{"x":93,"y":0.05},{"x":97,"y":0.02},{"x":99,"y":0.16},{"x":84,"y":-0.14},{"x":83,"y":-0.19},{"x":86,"y":-0.1},{"x":36,"y":-0.5},{"x":5,"y":-0.03},{"x":2,"y":-0.16},{"x":2,"y":-0.3}],
"gt":[{"x":65,"y":0.77},{"x":7,"y":0.69},{"x":15,"y":0.66},{"x":76,"y":0.62},{"x":86,"y":0.64},{"x":86,"y":0.6},{"x":90,"y":0.53},{"x":24,"y":0.56},{"x":36,"y":0.55},{"x":39,"y":0.54},{"x":52,"y":0.58},{"x":64,"y":0.49},{"x":77,"y":0.49},{"x":96,"y":0.42},{"x":98,"y":0.38},{"x":17,"y":-0.4},{"x":71,"y":-0.46},{"x":96,"y":-0.46},{"x":61,"y":-0.42},{"x":10,"y":0.36},{"x":20,"y":0.3},{"x":28,"y":0.22},{"x":45,"y":0.2},{"x":55,"y":0.12},{"x":62,"y":0.3},{"x":70,"y":0.34},{"x":80,"y":0.1},{"x":92,"y":0.28},{"x":96,"y":0.08},{"x":12,"y":-0.08},{"x":22,"y":-0.22},{"x":34,"y":-0.2},{"x":40,"y":-0.16},{"x":50,"y":-0.1},{"x":64,"y":-0.18},{"x":74,"y":-0.3},{"x":80,"y":-0.05},{"x":88,"y":-0.28},{"x":94,"y":-0.36},{"x":99,"y":-0.12},{"x":4,"y":0.12},{"x":14,"y":0.18},{"x":30,"y":0},{"x":46,"y":-0.02},{"x":84,"y":0},{"x":-99,"y":0.2},{"x":-98,"y":-0.02},{"x":-97,"y":0.45},{"x":-97,"y":-0.28},{"x":-96,"y":0.1},{"x":-95,"y":-0.16},{"x":-94,"y":0.3},{"x":-93,"y":-0.06},{"x":-93,"y":0.52},{"x":-92,"y":0.18},{"x":-91,"y":-0.22},{"x":-90,"y":0.4},{"x":-89,"y":-0.04},{"x":-88,"y":0.24},{"x":-87,"y":-0.38},{"x":-86,"y":0.08},{"x":-85,"y":0.48},{"x":-84,"y":-0.14},{"x":-83,"y":0.34},{"x":-82,"y":-0.3},{"x":-81,"y":0.14},{"x":-80,"y":-0.02},{"x":-79,"y":0.58},{"x":-78,"y":0.26},{"x":-77,"y":-0.44},{"x":-76,"y":0},{"x":-75,"y":0.2},{"x":-74,"y":-0.26},{"x":-73,"y":0.5},{"x":-72,"y":0.06},{"x":-71,"y":-0.1},{"x":-70,"y":0.3},{"x":-69,"y":-0.34},{"x":-68,"y":0.16},{"x":-67,"y":0.62},{"x":-66,"y":-0.04},{"x":-65,"y":0.4},{"x":-64,"y":-0.22},{"x":-63,"y":0.22},{"x":-62,"y":0.04},{"x":-61,"y":-0.4},{"x":-60,"y":0.36},{"x":-59,"y":0.12},{"x":-58,"y":-0.1},{"x":-57,"y":0.52},{"x":-56,"y":-0.28},{"x":-55,"y":0.18},{"x":-54,"y":0},{"x":-53,"y":0.42},{"x":-52,"y":-0.16},{"x":-51,"y":0.24},{"x":-50,"y":-0.36},{"x":-49,"y":0.1},{"x":-48,"y":0.55},{"x":-47,"y":-0.06},{"x":-46,"y":0.3},{"x":-45,"y":-0.2},{"x":-44,"y":0.06},{"x":-43,"y":0.46},{"x":-42,"y":-0.3},{"x":-41,"y":0.16},{"x":-40,"y":0},{"x":-39,"y":0.38},{"x":-38,"y":-0.14},{"x":-37,"y":0.24},{"x":-36,"y":-0.4},{"x":-35,"y":0.08},{"x":-34,"y":0.6},{"x":-33,"y":-0.24},{"x":-32,"y":0.32},{"x":-31,"y":-0.06},{"x":-30,"y":0.14},{"x":-29,"y":-0.44},{"x":-28,"y":0.48},{"x":-27,"y":0},{"x":-26,"y":0.28},{"x":-25,"y":-0.3},{"x":-24,"y":0.1},{"x":-23,"y":0.54},{"x":-22,"y":-0.12},{"x":-21,"y":0.22},{"x":-20,"y":-0.5},{"x":-19,"y":0.4},{"x":-18,"y":0.04},{"x":-17,"y":-0.2},{"x":-16,"y":0.34},{"x":-15,"y":-0.08},{"x":-14,"y":0.46},{"x":-13,"y":-0.26},{"x":-12,"y":0.2},{"x":-11,"y":-0.42},{"x":-10,"y":0.3},{"x":-9,"y":0.06},{"x":-8,"y":0.52},{"x":-7,"y":-0.18},{"x":-6,"y":0.16},{"x":-5,"y":-0.32},{"x":-4,"y":0.4},{"x":-3,"y":-0.04},{"x":-2,"y":0.26},{"x":-1,"y":0.6},{"x":-98,"y":-0.4},{"x":-95,"y":0.6},{"x":-92,"y":-0.48},{"x":-89,"y":0.12},{"x":-86,"y":-0.2},{"x":-83,"y":0},{"x":-80,"y":0.22},{"x":-77,"y":0.38},{"x":-74,"y":0.12},{"x":-71,"y":0.44},{"x":-68,"y":-0.18},{"x":-65,"y":0.08},{"x":-62,"y":-0.3},{"x":-59,"y":0.28},{"x":-56,"y":0.1},{"x":-53,"y":-0.08},{"x":-50,"y":0.4},{"x":-47,"y":0.18},{"x":-44,"y":-0.42},{"x":-41,"y":-0.12},{"x":-38,"y":0.12},{"x":-35,"y":0.44},{"x":-32,"y":-0.18},{"x":-29,"y":0.2},{"x":-26,"y":-0.14},{"x":-23,"y":0.3},{"x":-20,"y":0.12},{"x":-17,"y":0.5},{"x":-14,"y":0},{"x":-11,"y":0.1},{"x":-8,"y":-0.28},{"x":-5,"y":0.24},{"x":-2,"y":-0.16},{"x":-62,"y":0.76},{"x":-56,"y":0.75},{"x":-30,"y":0.74},{"x":-1,"y":0.71},{"x":-19,"y":-0.7},{"x":-49,"y":-0.63},{"x":-53,"y":-0.59},{"x":-57,"y":-0.56},{"x":-59,"y":-0.58},{"x":-95,"y":-0.52},{"x":-85,"y":-0.45},{"x":-70,"y":-0.5},{"x":-40,"y":-0.52},{"x":-25,"y":-0.48}],
"gt2":[{"x":-98,"y":0.27},{"x":-98,"y":-0.19},{"x":-98,"y":0.04},{"x":-96,"y":-0.33},{"x":-96,"y":0.14},{"x":-96,"y":-0.06},{"x":-94,"y":0.39},{"x":-94,"y":-0.25},{"x":-94,"y":0.01},{"x":-92,"y":-0.12},{"x":-92,"y":0.22},{"x":-92,"y":-0.4},{"x":-90,"y":0.08},{"x":-90,"y":-0.3},{"x":-90,"y":0.3},{"x":-88,"y":-0.18},{"x":-88,"y":0.12},{"x":-88,"y":-0.02},{"x":-86,"y":0.35},{"x":-86,"y":-0.36},{"x":-86,"y":-0.1},{"x":-84,"y":0.16},{"x":-84,"y":-0.23},{"x":-84,"y":0.04},{"x":-82,"y":-0.05},{"x":-82,"y":0.27},{"x":-82,"y":-0.44},{"x":-80,"y":0.1},{"x":-80,"y":-0.14},{"x":-80,"y":0.38},{"x":-78,"y":-0.3},{"x":-78,"y":0.02},{"x":-78,"y":0.19},{"x":-76,"y":0.25},{"x":-76,"y":-0.2},{"x":-76,"y":-0.08},{"x":-74,"y":-0.37},{"x":-74,"y":0.1},{"x":-74,"y":0.3},{"x":-72,"y":0.18},{"x":-72,"y":-0.06},{"x":-72,"y":-0.28},{"x":-70,"y":-0.15},{"x":-70,"y":0.06},{"x":-70,"y":0.43},{"x":-68,"y":0.3},{"x":-68,"y":-0.4},{"x":-68,"y":-0.01},{"x":-66,"y":0.14},{"x":-66,"y":-0.26},{"x":-66,"y":0.2},{"x":-64,"y":-0.08},{"x":-64,"y":0.33},{"x":-64,"y":-0.36},{"x":-62,"y":0.22},{"x":-62,"y":-0.18},{"x":-62,"y":0.01},{"x":-60,"y":-0.3},{"x":-60,"y":0.15},{"x":-60,"y":0.41},{"x":-58,"y":0.06},{"x":-58,"y":-0.05},{"x":-58,"y":-0.22},{"x":-56,"y":0.36},{"x":-56,"y":-0.38},{"x":-56,"y":0.18},{"x":-54,"y":-0.14},{"x":-54,"y":0.24},{"x":-54,"y":-0.3},{"x":-52,"y":0.12},{"x":-52,"y":-0.02},{"x":-52,"y":0.44},{"x":-50,"y":-0.24},{"x":-50,"y":0.2},{"x":-50,"y":-0.1},{"x":-48,"y":0.03},{"x":-48,"y":-0.33},{"x":-48,"y":0.28},{"x":-46,"y":-0.09},{"x":-46,"y":0.12},{"x":-46,"y":-0.42},{"x":-44,"y":0.35},{"x":-44,"y":-0.16},{"x":-44,"y":0.22},{"x":-42,"y":-0.04},{"x":-42,"y":0.1},{"x":-42,"y":-0.25},{"x":-40,"y":0.26},{"x":-40,"y":-0.38},{"x":-40,"y":0.42},{"x":-38,"y":0.06},{"x":-38,"y":-0.22},{"x":-38,"y":0.18},{"x":-36,"y":-0.12},{"x":-36,"y":0.32},{"x":-36,"y":-0.3},{"x":-34,"y":0.16},{"x":-34,"y":-0.06},{"x":-34,"y":0.05},{"x":-32,"y":-0.24},{"x":-32,"y":0.4},{"x":-32,"y":0.22},{"x":-30,"y":0.1},{"x":-30,"y":-0.34},{"x":-30,"y":-0.15},{"x":-28,"y":0.3},{"x":-28,"y":-0.02},{"x":-28,"y":-0.27},{"x":-26,"y":-0.1},{"x":-26,"y":0.16},{"x":-26,"y":0.37},{"x":-24,"y":0.24},{"x":-24,"y":-0.2},{"x":-24,"y":-0.38},{"x":-22,"y":0.04},{"x":-22,"y":0.3},{"x":-22,"y":-0.1},{"x":-20,"y":-0.28},{"x":-20,"y":0.18},{"x":-20,"y":0.43},{"x":-18,"y":0.12},{"x":-18,"y":-0.14},{"x":-18,"y":-0.32},{"x":-16,"y":-0.04},{"x":-16,"y":0.24},{"x":-16,"y":0.06},{"x":-14,"y":0.34},{"x":-14,"y":-0.26},{"x":-14,"y":-0.12},{"x":-12,"y":0.14},{"x":-12,"y":-0.4},{"x":-12,"y":0.04},{"x":-10,"y":-0.18},{"x":-10,"y":0.22},{"x":-10,"y":0.4},{"x":-8,"y":0.08},{"x":-8,"y":-0.08},{"x":-8,"y":-0.35},{"x":-6,"y":0.28},{"x":-6,"y":-0.24},{"x":-6,"y":0.18},{"x":-4,"y":-0.02},{"x":-4,"y":0.12},{"x":-4,"y":-0.2},{"x":5,"y":0.08},{"x":5,"y":-0.2},{"x":9,"y":-0.1},{"x":9,"y":0.26},{"x":13,"y":0.16},{"x":13,"y":-0.04},{"x":17,"y":-0.14},{"x":17,"y":0.34},{"x":21,"y":0.06},{"x":21,"y":-0.3},{"x":25,"y":0.2},{"x":25,"y":-0.12},{"x":29,"y":-0.2},{"x":29,"y":0.12},{"x":33,"y":0.28},{"x":33,"y":0.02},{"x":37,"y":-0.06},{"x":37,"y":0.22},{"x":41,"y":0.1},{"x":41,"y":-0.24},{"x":45,"y":-0.16},{"x":45,"y":0.3},{"x":49,"y":0.04},{"x":49,"y":0.18},{"x":53,"y":-0.22},{"x":53,"y":0.26},{"x":57,"y":0.12},{"x":57,"y":-0.08},{"x":61,"y":-0.12},{"x":61,"y":0.2},{"x":65,"y":0.06},{"x":65,"y":-0.3},{"x":69,"y":0.24},{"x":69,"y":-0.04},{"x":73,"y":-0.2},{"x":73,"y":0.12},{"x":77,"y":0.02},{"x":77,"y":0.3},{"x":81,"y":-0.1},{"x":81,"y":0.2},{"x":85,"y":0.14},{"x":85,"y":-0.2},{"x":89,"y":-0.02},{"x":89,"y":0.34},{"x":93,"y":0.12},{"x":93,"y":-0.16},{"x":97,"y":-0.08},{"x":97,"y":0.24}]
},
"concat":[
{"width":318,"height":250,"title":"US LTER areas",
"encoding":{"x":{"field":"x","type":"quantitative","scale":{"domain":[-100,100],"nice":false},"title":null,"axis":{"values":[-100,-50,0,50,100],"labelExpr":"abs(datum.value)==50 ? '' : datum.label","gridColor":{"condition":{"test":"abs(datum.value)==50","value":"#e3e3e9"},"value":"transparent"}}},
"y":{"field":"y","type":"quantitative","scale":{"domain":[-1,1],"nice":false},"title":"Field estimate","axis":{"values":[-1,-0.5,0,0.5,1],"format":".1f","labelExpr":"abs(datum.value)==0.5 ? '' : datum.label","gridColor":{"condition":{"test":"abs(datum.value)==0.5","value":"#e3e3e9"},"value":"transparent"}}}},
"layer":[
{"data":{"name":"lt"},"mark":"circle"},
{"data":{"name":"lt2"},"mark":"circle"},
{"data":{"name":"lg"},"mark":"circle"},
{"data":{"name":"lb"},"mark":"circle"},
{"data":{"name":"lr"},"mark":"circle"},
{"data":{"values":[{"x":0,"y":-1},{"x":0,"y":1}]},"mark":"line","encoding":{}},
{"data":{"values":[{"x":-100,"y":0},{"x":100,"y":0}]},"mark":"line","encoding":{}},
{"data":{"values":[{"x":100,"y":-0.9,"t":"rho = \u00a00.11*"}]},"mark":"text","encoding":{"text":{"field":"t"}}}
]},
{"width":318,"height":250,"title":"Peru elevation gradient",
"encoding":{"x":{"field":"x","type":"quantitative","scale":{"domain":[-100,100],"nice":false},"title":"% change in laboratory (from 12 \u00a0to 28°C)","axis":{"values":[-100,-50,0,50,100],"labelExpr":"abs(datum.value)==50 ? '' : datum.label","gridColor":{"condition":{"test":"abs(datum.value)==50","value":"#e3e3e9"},"value":"transparent"}}},
"y":{"field":"y","type":"quantitative","scale":{"domain":[-1,1],"nice":false},"title":null,"axis":{"values":[-1,-0.5,0,0.5,1],"format":".1f","labelExpr":"abs(datum.value)==0.5 ? '' : datum.label","gridColor":{"condition":{"test":"abs(datum.value)==0.5","value":"#e3e3e9"},"value":"transparent"}}}},
"layer":[
{"data":{"name":"pt"},"mark":"circle"},
{"data":{"name":"pt2"},"mark":"circle"},
{"data":{"name":"pg"},"mark":"circle"},
{"data":{"name":"pb"},"mark":"circle"},
{"data":{"name":"pr"},"mark":"circle"},
{"data":{"values":[{"x":0,"y":-1},{"x":0,"y":1}]},"mark":"line","encoding":{}},
{"data":{"values":[{"x":-100,"y":0},{"x":100,"y":0}]},"mark":"line","encoding":{}},
{"data":{"values":[{"x":100,"y":-0.9,"t":"rho = \u00a00.31***"}]},"mark":"text","encoding":{"text":{"field":"t"}}}
]},
{"width":318,"height":250,"title":"Global grasslands",
"encoding":{"x":{"field":"x","type":"quantitative","scale":{"domain":[-100,100],"nice":false},"title":null,"axis":{"values":[-100,-50,0,50,100],"labelExpr":"abs(datum.value)==50 ? '' : datum.label","gridColor":{"condition":{"test":"abs(datum.value)==50","value":"#e3e3e9"},"value":"transparent"}}},
"y":{"field":"y","type":"quantitative","scale":{"domain":[-1,1],"nice":false},"title":null,"axis":{"values":[-1,-0.5,0,0.5,1],"format":".1f","labelExpr":"abs(datum.value)==0.5 ? '' : datum.label","gridColor":{"condition":{"test":"abs(datum.value)==0.5","value":"#e3e3e9"},"value":"transparent"}}}},
"layer":[
{"data":{"name":"gt"},"mark":"circle"},
{"data":{"name":"gt2"},"mark":"circle"},
{"data":{"name":"gg"},"mark":"circle"},
{"data":{"name":"gb"},"mark":"circle"},
{"data":{"name":"gr"},"mark":"circle"},
{"data":{"values":[{"x":89,"y":0.69},{"x":100,"y":0.69}]},"mark":{"type":"line","strokeDash":[1,0],"color":"#c6c9ce","strokeWidth":2},"encoding":{}},
{"data":{"values":[{"x":81,"y":-0.22},{"x":100,"y":-0.22}]},"mark":{"type":"line","strokeDash":[1,0],"color":"#c6c9ce","strokeWidth":3.5},"encoding":{}},
{"data":{"values":[{"x":0,"y":-1},{"x":0,"y":1}]},"mark":"line","encoding":{}},
{"data":{"values":[{"x":-100,"y":0},{"x":100,"y":0}]},"mark":"line","encoding":{}},
{"data":{"values":[{"x":100,"y":-0.9,"t":"rho = \u00a00.17***"}]},"mark":"text","encoding":{"text":{"field":"t"}}}
]},
{"width":318,"height":250,"title":"US LTER areas",
"encoding":{"x":{"field":"x","type":"quantitative","scale":{"domain":[-100,100],"nice":false},"title":null,"axis":{"values":[-100,-50,0,50,100],"labelExpr":"abs(datum.value)==50 ? '' : datum.label","gridColor":{"condition":{"test":"abs(datum.value)==50","value":"#e3e3e9"},"value":"transparent"}}},
"y":{"field":"y","type":"quantitative","scale":{"domain":[-1,1],"nice":false},"title":"Field estimate","axis":{"values":[-1,-0.5,0,0.5,1],"format":".1f","labelExpr":"abs(datum.value)==0.5 ? '' : datum.label","gridColor":{"condition":{"test":"abs(datum.value)==0.5","value":"#e3e3e9"},"value":"transparent"}}}},
"layer":[
{"data":{"name":"lg"},"mark":"circle"},
{"data":{"name":"lb"},"mark":{"type":"circle","color":"#2c4b9b"}},
{"data":{"name":"lr"},"mark":{"type":"circle","color":"#e8282b"}},
{"data":{"values":[{"x":0,"y":-1},{"x":0,"y":1}]},"mark":"line","encoding":{}},
{"data":{"values":[{"x":-100,"y":0},{"x":100,"y":0}]},"mark":"line","encoding":{}}
]},
{"width":318,"height":250,"title":"Peru elevation gradient",
"encoding":{"x":{"field":"x","type":"quantitative","scale":{"domain":[-100,100],"nice":false},"title":"% change in laboratory (from 12 \u00a0to 28°C)","axis":{"values":[-100,-50,0,50,100],"labelExpr":"abs(datum.value)==50 ? '' : datum.label","gridColor":{"condition":{"test":"abs(datum.value)==50","value":"#e3e3e9"},"value":"transparent"}}},
"y":{"field":"y","type":"quantitative","scale":{"domain":[-1,1],"nice":false},"title":null,"axis":{"values":[-1,-0.5,0,0.5,1],"format":".1f","labelExpr":"abs(datum.value)==0.5 ? '' : datum.label","gridColor":{"condition":{"test":"abs(datum.value)==0.5","value":"#e3e3e9"},"value":"transparent"}}}},
"layer":[
{"data":{"name":"pg"},"mark":"circle"},
{"data":{"name":"pb"},"mark":{"type":"circle","color":"#2c4b9b"}},
{"data":{"name":"pr"},"mark":{"type":"circle","color":"#e8282b"}},
{"data":{"values":[{"x":0,"y":-1},{"x":0,"y":1}]},"mark":"line","encoding":{}},
{"data":{"values":[{"x":-100,"y":0},{"x":100,"y":0}]},"mark":"line","encoding":{}}
]},
{"width":318,"height":250,"title":"Global grasslands",
"encoding":{"x":{"field":"x","type":"quantitative","scale":{"domain":[-100,100],"nice":false},"title":null,"axis":{"values":[-100,-50,0,50,100],"labelExpr":"abs(datum.value)==50 ? '' : datum.label","gridColor":{"condition":{"test":"abs(datum.value)==50","value":"#e3e3e9"},"value":"transparent"}}},
"y":{"field":"y","type":"quantitative","scale":{"domain":[-1,1],"nice":false},"title":null,"axis":{"values":[-1,-0.5,0,0.5,1],"format":".1f","labelExpr":"abs(datum.value)==0.5 ? '' : datum.label","gridColor":{"condition":{"test":"abs(datum.value)==0.5","value":"#e3e3e9"},"value":"transparent"}}}},
"layer":[
{"data":{"name":"gg"},"mark":"circle"},
{"data":{"name":"gb"},"mark":{"type":"circle","color":"#2c4b9b"}},
{"data":{"name":"gr"},"mark":{"type":"circle","color":"#e8282b"}},
{"data":{"values":[{"x":0,"y":-1},{"x":0,"y":1}]},"mark":"line","encoding":{}},
{"data":{"values":[{"x":-100,"y":0},{"x":100,"y":0}]},"mark":"line","encoding":{}}
]}
]
}
